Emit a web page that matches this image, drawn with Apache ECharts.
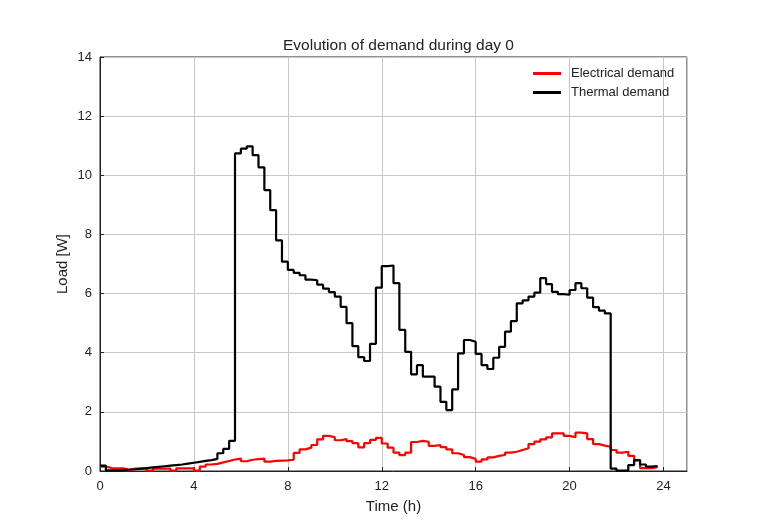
<!DOCTYPE html>
<html>
<head>
<meta charset="utf-8">
<script src="https://cdn.jsdelivr.net/npm/echarts@6/dist/echarts.min.js"></script>
<style>
  html, body { margin: 0; padding: 0; background: #ffffff; }
  #chart { width: 760px; height: 522px; }
</style>
</head>
<body>
<div id="chart"></div>
<script>
// Quarter-hour time steps over one day (h)
const hours = Array.from({ length: 96 }, (_, i) => i * 0.25);

// Electrical demand per quarter hour [W]
const electrical = [
  0.15, 0.10, 0.09, 0.09, 0.03, 0.08, 0.08, 0.08,
  0.01, 0.08, 0.08, 0.08, 0.01, 0.09, 0.09, 0.09,
  0.01, 0.15, 0.22, 0.24, 0.29, 0.34, 0.39, 0.42,
  0.33, 0.38, 0.40, 0.42, 0.32, 0.34, 0.35, 0.36,
  0.38, 0.61, 0.73, 0.79, 0.88, 1.07, 1.19, 1.14,
  1.04, 1.08, 1.01, 0.94, 0.80, 0.94, 1.05, 1.12,
  0.93, 0.79, 0.62, 0.54, 0.62, 0.98, 1.02, 0.99,
  0.85, 0.88, 0.81, 0.73, 0.60, 0.54, 0.47, 0.41,
  0.32, 0.39, 0.46, 0.51, 0.54, 0.62, 0.65, 0.71,
  0.77, 0.91, 0.99, 1.07, 1.14, 1.27, 1.27, 1.19,
  1.14, 1.30, 1.27, 1.08, 0.91, 0.86, 0.82, 0.71,
  0.62, 0.65, 0.51, 0.36, 0.10, 0.10, 0.13, 0.14
];

// Thermal demand per quarter hour [W]
const thermal = [
  0.18, 0.02, 0.02, 0.03, 0.05, 0.06, 0.08, 0.10,
  0.12, 0.14, 0.16, 0.18, 0.20, 0.22, 0.25, 0.28,
  0.31, 0.34, 0.37, 0.41, 0.60, 0.75, 1.02, 10.74,
  10.90, 10.98, 10.68, 10.27, 9.50, 8.82, 7.80, 7.08,
  6.80, 6.70, 6.62, 6.47, 6.45, 6.30, 6.17, 6.05,
  5.90, 5.55, 5.00, 4.22, 3.85, 3.72, 4.30, 6.20,
  6.93, 6.95, 6.35, 4.77, 4.03, 3.27, 3.58, 3.19,
  3.19, 2.85, 2.34, 2.06, 2.76, 3.98, 4.43, 4.37,
  3.96, 3.58, 3.45, 3.83, 4.20, 4.71, 5.07, 5.67,
  5.77, 5.90, 6.03, 6.52, 6.32, 6.06, 5.98, 5.96,
  6.12, 6.35, 6.18, 5.86, 5.54, 5.42, 5.33, 0.08,
  0.01, 0.01, 0.20, 0.37, 0.22, 0.15, 0.17, 0.18
];

const seriesNames = ['Electrical demand', 'Thermal demand'];
const seriesColors = ['#ff0000', '#000000'];

const FONT = 'Liberation Sans, Arial, Helvetica, sans-serif';

const pairs = vals => hours.map((h, i) => [h, vals[i]]);

const chart = echarts.init(document.getElementById('chart'), null, { renderer: 'canvas' });

chart.setOption({
  animation: false,
  backgroundColor: '#ffffff',
  title: {
    text: 'Evolution of demand during day 0',
    left: 393.5,
    textAlign: 'center',
    top: 33,
    textStyle: { fontFamily: FONT, fontSize: 15.5, fontWeight: 'normal', color: '#222' }
  },
  legend: {
    orient: 'vertical',
    left: 533,
    top: 66,
    padding: 0,
    itemGap: 4,
    itemWidth: 28,
    itemHeight: 3,
    icon: 'rect',
    textStyle: { fontFamily: FONT, fontSize: 13, color: '#222', lineHeight: 15, padding: [0, 0, 0, 5] },
    data: seriesNames
  },
  grid: {
    left: 100, top: 57, width: 587, height: 414,
    show: true, borderColor: '#222', borderWidth: 1, backgroundColor: 'transparent'
  },
  xAxis: {
    type: 'value',
    min: 0, max: 25, interval: 4,
    name: 'Time (h)',
    nameLocation: 'middle',
    nameGap: 28,
    nameTextStyle: { fontFamily: FONT, fontSize: 15, color: '#222' },
    axisLine: { show: true, lineStyle: { color: '#222', width: 1 } },
    axisTick: { show: true, inside: true, length: 4, lineStyle: { color: '#222' } },
    axisLabel: { fontFamily: FONT, fontSize: 13, color: '#222', margin: 9, showMaxLabel: false },
    splitLine: { show: true, lineStyle: { color: '#c8c8c8', width: 1 } }
  },
  yAxis: {
    type: 'value',
    min: 0, max: 14, interval: 2,
    name: 'Load [W]',
    nameLocation: 'middle',
    nameRotate: 90,
    nameGap: 30,
    nameMoveOverlap: false,
    nameTextStyle: { fontFamily: FONT, fontSize: 15, color: '#222' },
    axisLine: { show: true, lineStyle: { color: '#222', width: 1 } },
    axisTick: { show: true, inside: true, length: 4, lineStyle: { color: '#222' } },
    axisLabel: { fontFamily: FONT, fontSize: 13, color: '#222', margin: 8 },
    splitLine: { show: true, lineStyle: { color: '#c8c8c8', width: 1 } }
  },
  series: [
    {
      name: seriesNames[0],
      type: 'line',
      step: 'end',
      showSymbol: false,
      symbol: 'none',
      color: seriesColors[0],
      lineStyle: { color: seriesColors[0], width: 2.2 },
      data: pairs(electrical)
    },
    {
      name: seriesNames[1],
      type: 'line',
      step: 'end',
      showSymbol: false,
      symbol: 'none',
      color: seriesColors[1],
      lineStyle: { color: seriesColors[1], width: 2.2 },
      data: pairs(thermal)
    }
  ]
});
</script>
</body>
</html>
